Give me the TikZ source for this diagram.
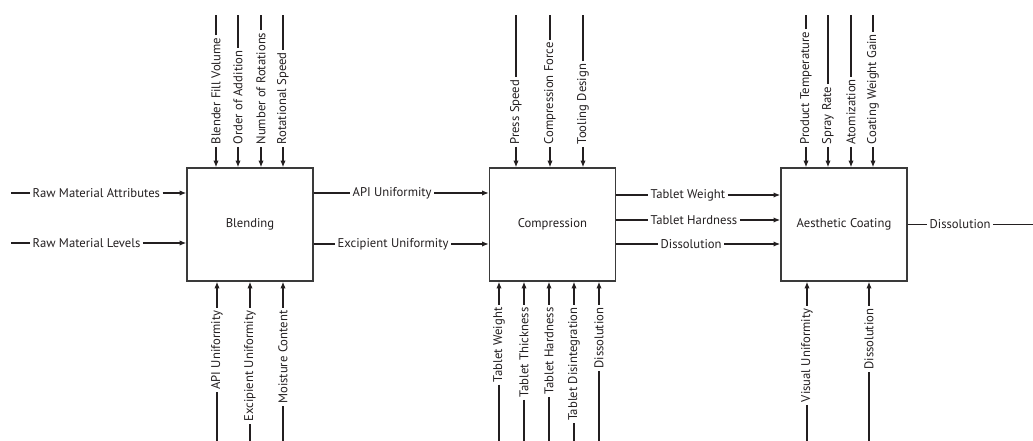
\documentclass[tikz,border=0pt]{standalone}
\usepackage{fontspec}
\setmainfont{PT Sans}
\usetikzlibrary{arrows.meta,positioning}
\definecolor{inkcol}{HTML}{231F20}
\definecolor{boxcol}{HTML}{3A3A3A}

\begin{document}
\begin{tikzpicture}[x=0.75pt,y=-0.75pt,font=\fontsize{9.5}{11}\selectfont,
  >={Latex[length=5pt,width=4pt]},line width=0.9pt,color=inkcol,
  unit/.style={draw=boxcol,line width=1.1pt,minimum width=94.5pt,minimum height=84.75pt,inner sep=0pt},
  lab/.style={inner sep=1.5pt},
  up/.style={lab,rotate=90,anchor=west},
  dn/.style={lab,rotate=90,anchor=east}]
\useasboundingbox (0,0) rectangle (1033,441);
\coordinate (lft) at (11,0); \coordinate (rgt) at (1033,0);
\coordinate (top) at (0,15); \coordinate (bot) at (0,441);
% process units
\node[unit] (blend) at (250,224.5) {Blending};
\node[unit,right=131.25pt of blend] (comp) {Compression};
\node[unit,right=123pt of comp] (coat) {Aesthetic Coating};
% raw material inputs
\node[lab,anchor=west] (rma) at (30,193) {Raw Material Attributes};
\node[lab,anchor=west] (rml) at (30,243) {Raw Material Levels};
\draw (rma) -- (rma -| lft); \draw[->] (rma) -- (rma -| blend.west);
\draw (rml) -- (rml -| lft); \draw[->] (rml) -- (rml -| blend.west);
% blending parameters
\node[up] (bfv) at (216,147) {Blender Fill Volume};
\node[up] (ooa) at (238,147) {Order of Addition};
\node[up] (nor) at (261,147) {Number of Rotations};
\node[up] (rsp) at (283,147) {Rotational Speed};
\foreach \n in {bfv,ooa,nor,rsp}
  {\draw (\n) -- (\n |- top); \draw[->] (\n) -- (\n |- blend.north);}
\node[dn] (bapi) at (217,308) {API Uniformity};
\node[dn] (bexc) at (250,308) {Excipient Uniformity};
\node[dn] (bmoi) at (283,308) {Moisture Content};
\foreach \n in {bapi,bexc,bmoi}
  {\draw (\n) -- (\n |- bot); \draw[->] (\n) -- (\n |- blend.south);}
% blending -> compression
\node[lab,anchor=west] (apiu) at (350,193) {API Uniformity};
\node[lab,anchor=west] (excu) at (335,244) {Excipient Uniformity};
\draw (apiu -| blend.east) -- (apiu); \draw[->] (apiu) -- (apiu -| comp.west);
\draw (excu -| blend.east) -- (excu); \draw[->] (excu) -- (excu -| comp.west);
% compression parameters
\node[up] (psp) at (516,147) {Press Speed};
\node[up] (cfo) at (550,147) {Compression Force};
\node[up] (tds) at (583,147) {Tooling Design};
\foreach \n in {psp,cfo,tds}
  {\draw (\n) -- (\n |- top); \draw[->] (\n) -- (\n |- comp.north);}
\node[dn] (ctw) at (499,305) {Tablet Weight};
\node[dn] (ctt) at (524,305) {Tablet Thickness};
\node[dn] (cth) at (549,305) {Tablet Hardness};
\node[dn] (ctd) at (574,305) {Tablet Disintegration};
\node[dn] (cds) at (599,305) {Dissolution};
\foreach \n in {ctw,ctt,cth,ctd,cds}
  {\draw (\n) -- (\n |- bot); \draw[->] (\n) -- (\n |- comp.south);}
% compression -> coating
\node[lab,anchor=west] (tw) at (648,195) {Tablet Weight};
\node[lab,anchor=west] (th) at (648,220) {Tablet Hardness};
\node[lab,anchor=west] (tdis) at (658,244) {Dissolution};
\foreach \n in {tw,th,tdis}
  {\draw (\n -| comp.east) -- (\n); \draw[->] (\n) -- (\n -| coat.west);}
% coating parameters
\node[up] (ptm) at (806,147) {Product Temperature};
\node[up] (spr) at (828,147) {Spray Rate};
\node[up] (ato) at (851,147) {Atomization};
\node[up] (cwg) at (873,147) {Coating Weight Gain};
\foreach \n in {ptm,spr,ato,cwg}
  {\draw (\n) -- (\n |- top); \draw[->] (\n) -- (\n |- coat.north);}
\node[dn] (vis) at (807,306) {Visual Uniformity};
\node[dn] (kdis) at (869,306) {Dissolution};
\foreach \n in {vis,kdis}
  {\draw (\n) -- (\n |- bot); \draw[->] (\n) -- (\n |- coat.south);}
% output
\node[lab,anchor=west] (odis) at (927,224.5) {Dissolution};
\draw (coat.east |- odis) -- (odis); \draw (odis) -- (odis -| rgt);
\end{tikzpicture}
\end{document}
